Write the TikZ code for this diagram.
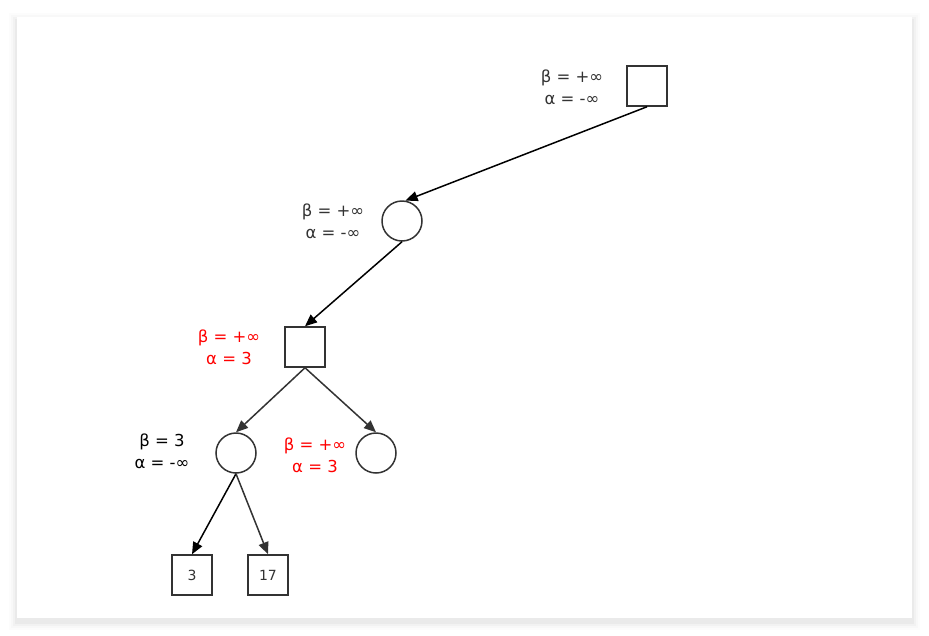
\documentclass[tikz,border=0pt]{standalone}
\usepackage{fontspec}
\setmainfont{DejaVu Sans}
\usetikzlibrary{arrows.meta}
\definecolor{ink}{HTML}{333333}
\definecolor{hot}{HTML}{FF0000}
\newcommand{\bounds}[2]{β = #1\\α = #2}
\begin{document}
\begin{tikzpicture}[x=1pt,y=-1pt,
  box/.style={draw=ink,line width=1.5pt,minimum size=40pt,inner sep=0pt,font=\fontsize{14}{16}\selectfont,text=ink},
  ring/.style={draw=ink,line width=1.5pt,circle,minimum size=40pt,inner sep=0pt},
  bnd/.style={align=center,font=\fontsize{16.5}{22}\selectfont,text=ink},
  edge/.style={-{Triangle[length=12pt,width=10pt]},line width=1.5pt}]

 \useasboundingbox (0,0) rectangle (929,635);
 % card with soft shadow
 \foreach \s/\o in {8/0.012,6/0.016,4/0.022,2/0.03}
   \fill[black,opacity=\o] (17-\s,17-\s+4) rectangle (912+\s,618+\s+4);
 \fill[white] (17,17) rectangle (912,618);

 % tree
 \node[box]  (root) at (647,86) {};
 \node[ring] (min1) at (402,221) {};
 \node[box]  (max2) at (305,347) {};
 \node[ring] (minL) at (236,453) {};
 \node[ring] (minR) at (376,453) {};
 \node[box]  (leafA) at (192,575) {3};
 \node[box]  (leafB) at (268,575) {17};

 \draw[edge,black] (root.south) -- (min1.80);
 \draw[edge,black] (min1.south) -- (max2.north);
 \draw[edge,ink] (max2.south) -- (minL.north);
 \draw[edge,ink] (max2.south) -- (minR.north);
 \draw[edge,black] (minL.south) -- (leafA.north);
 \draw[edge,ink] (minL.south) -- (leafB.north);

 % bounds
 \node[bnd] (b0) at (572,87) {\bounds{+∞}{-∞}};
 \node[bnd] (b1) at (333,221) {\bounds{+∞}{-∞}};
 \node[bnd,text=hot] (b2) at (229,347) {\bounds{+∞}{3}};
 \node[bnd,text=black] (b3) at (162,451) {\bounds{3}{-∞}};
 \node[bnd,text=hot] (b4) at (315,455) {\bounds{+∞}{3}};

\end{tikzpicture}
\end{document}
